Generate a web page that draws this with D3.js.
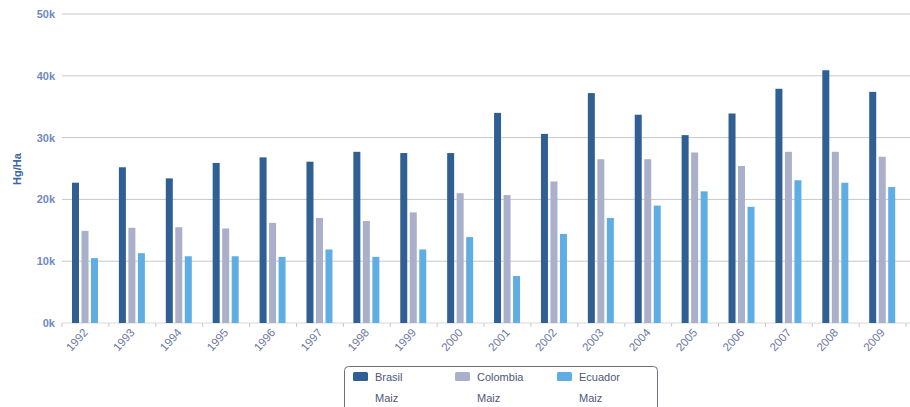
<!DOCTYPE html>
<html><head><meta charset="utf-8">
<script src="https://cdn.jsdelivr.net/npm/d3@7/dist/d3.min.js"></script>
<style>body{margin:0;background:#fff;}svg{display:block;}</style>
</head><body>
<svg id="c" width="910" height="407"></svg>
<script>
const years = ["1992","1993","1994","1995","1996","1997","1998","1999","2000","2001","2002","2003","2004","2005","2006","2007","2008","2009","2010"];
const brasil   = [22700,25200,23400,25900,26800,26100,27700,27500,27500,34000,30600,37200,33700,30400,33900,37900,40900,37400,null];
const colombia = [14900,15400,15500,15300,16200,17000,16500,17900,21000,20700,22900,26500,26500,27600,25400,27700,27700,26900,null];
const ecuador  = [10500,11300,10800,10800,10700,11900,10700,11900,13900,7600,14400,17000,19000,21300,18800,23100,22700,22000,null];
const seriesNames = ["Brasil","Colombia","Ecuador"];
const seriesSub = "Maiz";
const colors = ["#2f5f93","#aab0ca","#5faee3"];
const yTicks = [0,10000,20000,30000,40000,50000];
const yTitle = "Hg/Ha";

(function(){
const svg = d3.select("#c");
const pLeft = 62, pRight = 953, pTop = 14, pBottom = 323;
const x = d3.scaleBand().domain(years).range([pLeft, pRight]).paddingInner(0).paddingOuter(0);
const y = d3.scaleLinear().domain([0,50000]).range([pBottom, pTop]);
const series = [brasil, colombia, ecuador];

svg.append("g").selectAll("line").data(yTicks).join("line")
  .attr("x1", pLeft).attr("x2", 910)
  .attr("y1", d=>y(d)).attr("y2", d=>y(d))
  .attr("stroke", d=> d===0 ? "#d8d8d8" : "#c8c8c8").attr("stroke-width",1);

svg.append("g").selectAll("text").data(yTicks).join("text")
  .attr("x", 55).attr("y", d=>y(d)+4)
  .attr("text-anchor","end")
  .attr("font-family","Liberation Sans, Arial, sans-serif")
  .attr("font-size",11).attr("font-weight","bold")
  .attr("fill","#6f89bf")
  .text(d=> (d/1000)+"k");

svg.append("text")
  .attr("transform","translate(21,169) rotate(-90)")
  .attr("text-anchor","middle")
  .attr("font-family","Liberation Sans, Arial, sans-serif")
  .attr("font-size",11).attr("font-weight","bold")
  .attr("fill","#3d67a8").text(yTitle);

svg.append("g").selectAll("line").data(years).join("line")
  .attr("x1", d=>x(d)).attr("x2", d=>x(d))
  .attr("y1", pBottom).attr("y2", pBottom+4)
  .attr("stroke","#c8c8c8");

const barW = 7, barOff = [10,19.5,29];
series.forEach((s,i)=>{
  svg.append("g").selectAll("rect").data(years.map((yr,j)=>({yr, v:s[j]})).filter(d=>d.v!=null)).join("rect")
    .attr("x", d=>x(d.yr)+barOff[i])
    .attr("width", barW)
    .attr("y", d=>y(d.v))
    .attr("height", d=>pBottom - y(d.v))
    .attr("fill", colors[i]);
});

svg.append("g").selectAll("text").data(years).join("text")
  .attr("transform", d=>"translate("+(x(d)+x.bandwidth()/2+3)+","+(pBottom+10)+") rotate(-48)")
  .attr("text-anchor","end")
  .attr("font-family","Liberation Sans, Arial, sans-serif")
  .attr("font-size",11.5)
  .attr("fill","#6a76a0")
  .text(d=>d);

const lg = svg.append("g");
lg.append("rect").attr("x",344.5).attr("y",366.5).attr("width",313).attr("height",60)
  .attr("rx",4).attr("fill","#fff").attr("stroke","#6a6e80").attr("stroke-width",1);
seriesNames.forEach((n,i)=>{
  const gx = 353 + i*102;
  lg.append("rect").attr("x",gx).attr("y",372).attr("width",15).attr("height",9).attr("rx",1.5).attr("fill",colors[i]);
  lg.append("text").attr("x",gx+22).attr("y",381)
    .attr("font-family","Liberation Sans, Arial, sans-serif").attr("font-size",11)
    .attr("fill","#4e5878").text(n);
  lg.append("text").attr("x",gx+22).attr("y",402)
    .attr("font-family","Liberation Sans, Arial, sans-serif").attr("font-size",11)
    .attr("fill","#4e5878").text(seriesSub);
});
})();
</script>
</body></html>
